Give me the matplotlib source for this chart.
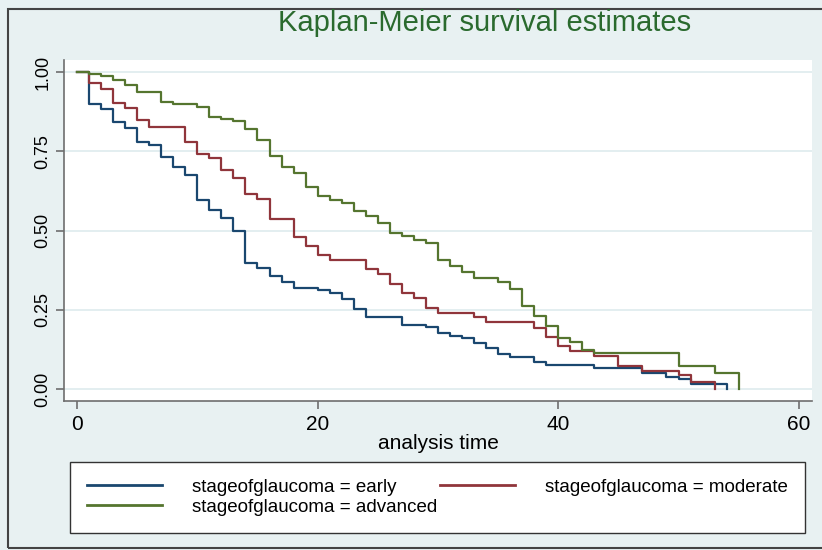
import matplotlib.pyplot as plt
from matplotlib.patches import Rectangle

plt.rcParams['font.family'] = ['Liberation Sans', 'DejaVu Sans']

# step times and survival after each step
early_t = [0, 1, 2, 3, 4, 5, 6, 7, 8, 9, 10, 11, 12, 13, 14, 15, 16, 17, 18, 20, 21, 22, 23, 24,
           27, 29, 30, 31, 32, 33, 34, 35, 36, 38, 39, 43, 47, 49, 50, 51, 54]
early_s = [1.0, 0.90, 0.883, 0.843, 0.825, 0.78, 0.77, 0.733, 0.70, 0.675, 0.596, 0.565, 0.538,
           0.498, 0.397, 0.381, 0.355, 0.337, 0.32, 0.312, 0.304, 0.285, 0.251, 0.228,
           0.202, 0.195, 0.177, 0.168, 0.16, 0.144, 0.128, 0.11, 0.102, 0.084, 0.076,
           0.067, 0.049, 0.039, 0.032, 0.016, 0.0]

moderate_t = [0, 1, 2, 3, 4, 5, 6, 9, 10, 11, 12, 13, 14, 15, 16, 18, 19, 20, 21, 24, 25, 26,
              27, 28, 29, 30, 33, 34, 38, 39, 40, 41, 43, 45, 47, 50, 51, 53]
moderate_s = [1.0, 0.967, 0.945, 0.901, 0.887, 0.849, 0.827, 0.779, 0.741, 0.728, 0.692, 0.665,
              0.614, 0.60, 0.536, 0.481, 0.451, 0.423, 0.407, 0.378, 0.363, 0.331, 0.302,
              0.286, 0.255, 0.241, 0.226, 0.21, 0.193, 0.163, 0.136, 0.12, 0.104, 0.074,
              0.058, 0.044, 0.023, 0.0]

advanced_t = [0, 1, 2, 3, 4, 5, 7, 8, 10, 11, 12, 13, 14, 15, 16, 17, 18, 19, 20, 21, 22, 23,
              24, 25, 26, 27, 28, 29, 30, 31, 32, 33, 35, 36, 37, 38, 39, 40, 41, 42, 43, 50,
              53, 55]
advanced_s = [1.0, 0.995, 0.987, 0.975, 0.959, 0.936, 0.906, 0.898, 0.891, 0.859, 0.852, 0.846,
              0.821, 0.785, 0.736, 0.701, 0.68, 0.636, 0.61, 0.596, 0.586, 0.562, 0.547,
              0.523, 0.491, 0.484, 0.47, 0.46, 0.408, 0.389, 0.37, 0.349, 0.338, 0.317,
              0.263, 0.231, 0.199, 0.16, 0.149, 0.123, 0.112, 0.074, 0.049, 0.0]

labels = ['stageofglaucoma = early', 'stageofglaucoma = moderate', 'stageofglaucoma = advanced']
colors = ['#1a476f', '#90353b', '#55752f']
yticks = [0, 0.25, 0.5, 0.75, 1.0]
xticks = [0, 20, 40, 60]

bg = '#e8f1f2'
fig = plt.figure(figsize=(8.22, 5.5), dpi=100, facecolor=bg)
ax = fig.add_axes([0.0779, 0.2709, 0.910, 0.620])
ax.set_facecolor('white')

lines = []
for t, s, c, lab in zip([early_t, moderate_t, advanced_t],
                        [early_s, moderate_s, advanced_s], colors, labels):
    ln, = ax.step(t, s, where='post', color=c, lw=1.6, label=lab)
    lines.append(ln)

ax.set_xlim(-1.08, 61.1)
ax.set_ylim(-0.038, 1.038)
ax.set_yticks(yticks)
ax.set_yticklabels(['%.2f' % v for v in yticks], rotation=90, va='center', fontsize=13)
ax.set_xticks(xticks)
ax.set_xticklabels([str(v) for v in xticks], fontsize=15)
ax.grid(axis='y', color='#e3eef0', lw=1.4)
ax.set_axisbelow(True)
for sp in ['top', 'right']:
    ax.spines[sp].set_visible(False)
for sp in ['left', 'bottom']:
    ax.spines[sp].set_color('#6e6e6e')
    ax.spines[sp].set_linewidth(1.2)
ax.tick_params(axis='both', colors='#6e6e6e', labelcolor='black', length=6, width=1.2)
ax.tick_params(axis='y', pad=3)
ax.tick_params(axis='x', pad=4)
ax.set_xlabel('analysis time', fontsize=15, labelpad=0)

fig.text(0.589, 0.958, 'Kaplan-Meier survival estimates', ha='center', va='center',
         fontsize=21, color='#2a6a2e')

leg = fig.legend([lines[0], lines[2], lines[1]], [labels[0], labels[2], labels[1]],
                 ncol=2, loc='upper left', bbox_to_anchor=(0.0852, 0.16, 0.894, 0.0),
                 mode='expand', borderaxespad=0, fontsize=13.5, handlelength=4.0,
                 handletextpad=1.6, labelspacing=0.15, borderpad=0.9, frameon=True,
                 fancybox=False, edgecolor='#333333', facecolor='white', framealpha=1)
leg.get_frame().set_linewidth(1.0)
for ln in leg.get_lines():
    ln.set_linewidth(2.0)

fig.patches.append(Rectangle((0.0097, 0.0036), 1.2, 0.98, transform=fig.transFigure,
                             fill=False, edgecolor='#444444', lw=1.5))

fig.savefig('out.png', dpi=100, facecolor=bg)
